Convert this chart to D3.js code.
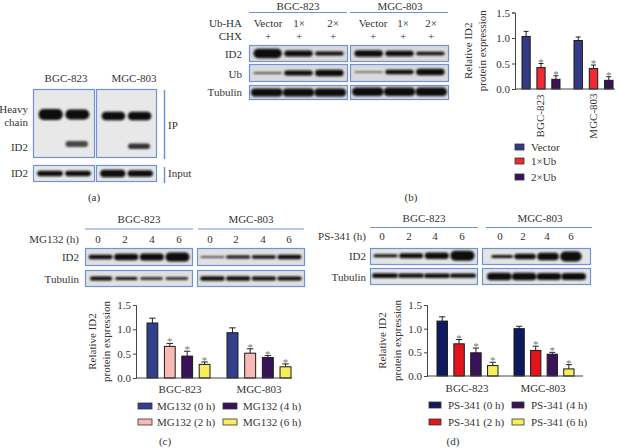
<!DOCTYPE html>
<html><head><meta charset="utf-8">
<script src="https://cdn.jsdelivr.net/npm/d3@7"></script>
<style>html,body{margin:0;background:#fff}svg{display:block}text{font-family:"Liberation Serif",serif;fill:#333;font-size:11px}</style>
</head><body><svg id="c" width="620" height="448"></svg>
<script>
// ---------- data ----------
const cellLines = ["BGC-823", "MGC-803"];
const yTicks = [0, 0.5, 1.0, 1.5];
const yLabelLines = ["Relative ID2", "protein expression"];
const ubSeries = ["Vector", "1×Ub", "2×Ub"];
const ubColors = ["#343a86", "#ee2a33", "#3a1259"];
const ubValues = [[1.03, 0.42, 0.19], [0.95, 0.40, 0.17]];
const ubErrTop = [[1.13, 0.50, 0.26], [1.02, 0.47, 0.24]];
const mgSeries = ["MG132 (0 h)", "MG132 (2 h)", "MG132 (4 h)", "MG132 (6 h)"];
const mgColors = ["#343f8c", "#fbb9b5", "#3a1259", "#f7ee5a"];
const mgValues = [[1.13, 0.65, 0.45, 0.28], [0.93, 0.51, 0.42, 0.23]];
const mgErrTop = [[1.23, 0.71, 0.55, 0.33], [1.03, 0.60, 0.46, 0.29]];
const psSeries = ["PS-341 (0 h)", "PS-341 (2 h)", "PS-341 (4 h)", "PS-341 (6 h)"];
const psColors = ["#0e1a5e", "#e3141c", "#3a1259", "#f7ee5a"];
const psValues = [[1.16, 0.68, 0.49, 0.22], [1.00, 0.54, 0.46, 0.15]];
const psErrTop = [[1.25, 0.77, 0.59, 0.29], [1.05, 0.63, 0.50, 0.24]];
const ubLanes = ["Vector", "1×", "2×"];
const hourLanes = ["0", "2", "4", "6"];
// western-blot band strength per lane (0..1 thickness-like reading), one per lane
const blotA = {heavy: [[1, .9], [.85, .85]], id2: [[0, .55], [0, .5]], input: [[.55, .55], [.75, .65]]};
const blotB = {id2: [[.95, .6, .4], [.65, .55, .35]], ub: [[.22, .5, .65], [.15, .45, .65]], tub: [[.8, .8, .8], [.85, .85, .85]]};
const blotC = {id2: [[.45, .65, .7, .9], [.18, .3, .35, .45]], tub: [[.5, .4, .3, .3], [.55, .55, .5, .5]]};
const blotD = {id2: [[.3, .5, .65, 1], [.3, .55, .75, 1]], tub: [[.7, .6, .65, .6], [.85, .85, .8, .8]]};

// ---------- helpers ----------
const svg = d3.select("#c");
svg.append("defs").append("filter").attr("id", "bl").attr("x", "-20%").attr("y", "-80%").attr("width", "140%").attr("height", "260%")
  .append("feGaussianBlur").attr("stdDeviation", 0.9);
function txt(x, y, s, o = {}) {
  const t = svg.append("text").attr("x", x).attr("y", y).text(s).attr("text-anchor", o.a || "start");
  if (o.rot) t.attr("transform", `rotate(${o.rot} ${x} ${y})`);
  return t;
}
const BLUE = "#6f93d6";
function blot(x0, x1, y0, y1, strengths, o = {}) {
  if (!o.noBox) svg.append("rect").attr("x", x0 + .5).attr("y", y0 + .5).attr("width", x1 - x0 - 1).attr("height", y1 - y0 - 1)
    .attr("fill", o.bg || "#e0e0e0").attr("stroke", BLUE).attr("stroke-width", 1.2);
  const cy = d3.scaleLinear().domain([0, 1]).range([y0, y1]);
  const lanes = d3.scaleBand().domain(d3.range(strengths.length)).range([x0 + (o.pad ?? 2), x1 - (o.pad ?? 2)]).padding(o.gap ?? .08);
  const th = d3.scaleLinear().domain([0, 1]).range([0, o.maxT || 12]);
  strengths.forEach((s, i) => {
    if (!s) return;
    const h = th(s);
    svg.append("rect").attr("x", lanes(i)).attr("y", cy(o.mid ?? .5) - h / 2).attr("width", lanes.bandwidth()).attr("height", h)
      .attr("rx", Math.min(h / 2, 5)).attr("fill", o.color || (s < .25 ? "#555" : "#0a0a0a")).attr("filter", "url(#bl)");
  });
}
function labelsAt(xs, y, labels) { labels.forEach((l, i) => txt(xs[i], y, l, {a: "middle"})); }
function hline(x0, x1, y, col = BLUE, w = 1.2) {
  svg.append("line").attr("x1", x0).attr("x2", x1).attr("y1", y).attr("y2", y).attr("stroke", col).attr("stroke-width", w);
}
function vline(x, y0, y1, w = 1.5) {
  svg.append("line").attr("x1", x).attr("x2", x).attr("y1", y0).attr("y2", y1).attr("stroke", BLUE).attr("stroke-width", w);
}
function barChart(cfg) {
  const {x0, x1, yTop, yBase, groupRanges, values, errs, colors, series} = cfg;
  const y = d3.scaleLinear().domain([0, 1.5]).range([yBase, yTop]);
  const g = svg.append("g");
  values.forEach((vals, gi) => {
    const x = d3.scaleBand().domain(series).range(groupRanges[gi]).paddingInner(cfg.inner ?? .38).paddingOuter(0);
    series.forEach((s, i) => {
      const bx = x(s), bw = x.bandwidth(), cx = bx + bw / 2;
      g.append("line").attr("x1", cx).attr("x2", cx).attr("y1", y(vals[i])).attr("y2", y(errs[gi][i])).attr("stroke", "#222").attr("stroke-width", 1);
      g.append("line").attr("x1", cx - bw * .3).attr("x2", cx + bw * .3).attr("y1", y(errs[gi][i])).attr("y2", y(errs[gi][i])).attr("stroke", "#222").attr("stroke-width", 1);
      g.append("rect").attr("x", bx).attr("y", y(vals[i])).attr("width", bw).attr("height", y(0) - y(vals[i]))
        .attr("fill", colors[i]).attr("stroke", "#1a1a1a").attr("stroke-width", 1);
      if (i > 0) g.append("text").attr("x", cx).attr("y", y(errs[gi][i]) + 2).attr("text-anchor", "middle").text("*").style("font-size", "11px").style("fill", "#777");
    });
  });
  const axL = d3.axisLeft(y).tickValues(yTicks).tickFormat(d3.format(".1f")).tickSize(3).tickPadding(2);
  const ga = svg.append("g").attr("transform", `translate(${x0},0)`).call(axL);
  ga.selectAll("text").style("font-size", "11px").style("font-family", '"Liberation Serif",serif');
  ga.selectAll("path,line").attr("stroke", "#444");
  hline(x0, x1, yBase, "#444", 1);
  cfg.yLabelX.forEach((lx, i) => txt(lx, (yBase + yTop) / 2, yLabelLines[i], {a: "middle", rot: -90}));
}
function legend(xSw, xTxt, ys, w, names, colors) {
  names.forEach((n, i) => {
    svg.append("rect").attr("x", xSw).attr("y", ys[i] - 3).attr("width", w).attr("height", 6).attr("fill", colors[i]).attr("stroke", "#333").attr("stroke-width", .8);
    txt(xTxt, ys[i] + 3.5, n);
  });
}

// ---------- panel (a) ----------
const bgA = "#e8e8e8";
labelsAt([66, 134], 82, cellLines);
blot(33, 95, 89, 158, blotA.heavy[0], {mid: .37, maxT: 11, pad: 3, gap: .1, bg: bgA});
blot(96, 157, 89, 158, blotA.heavy[1], {mid: .39, maxT: 10, pad: 3, gap: .1, bg: bgA});
blot(33, 95, 130, 158, blotA.id2[0], {mid: .5, maxT: 11, pad: 4, gap: .12, noBox: true, color: "#444"});
blot(96, 157, 130, 158, blotA.id2[1], {mid: .58, maxT: 11, pad: 4, gap: .12, noBox: true, color: "#333"});
blot(33, 95, 165, 182, blotA.input[0], {maxT: 10, bg: bgA});
blot(96, 157, 165, 182, blotA.input[1], {maxT: 10, bg: bgA});
vline(164.5, 90, 159); vline(164.5, 167, 183);
txt(28, 113, "Heavy", {a: "end"}); txt(28, 126, "chain", {a: "end"});
txt(28, 151, "ID2", {a: "end"}); txt(28, 177, "ID2", {a: "end"});
txt(168, 129, "IP"); txt(168, 177, "Input");
txt(94, 201, "(a)", {a: "middle"});

// ---------- panel (b) ----------
const bgB = "#dadada";
labelsAt([298, 400], 10, cellLines);
hline(249, 347, 12.5); hline(350, 448, 12.5);
txt(242, 27, "Ub-HA", {a: "end"}); txt(242, 40, "CHX", {a: "end"});
labelsAt([268, 299, 333, 373, 403, 431], 27, ubLanes.concat(ubLanes));
labelsAt([268, 299, 333, 373, 403, 431], 40, ["+", "+", "+", "+", "+", "+"]);
txt(242, 58, "ID2", {a: "end"}); txt(242, 78, "Ub", {a: "end"}); txt(242, 96, "Tubulin", {a: "end"});
blot(249, 348, 45, 62, blotB.id2[0], {maxT: 10, bg: bgB});
blot(350, 449, 45, 62, blotB.id2[1], {maxT: 10, bg: bgB});
blot(249, 348, 64, 82, blotB.ub[0], {maxT: 10, bg: bgB});
blot(350, 449, 64, 82, blotB.ub[1], {maxT: 10, bg: bgB, mid: .45});
blot(249, 348, 85, 100, blotB.tub[0], {maxT: 10, gap: 0, bg: bgB});
blot(350, 449, 85, 100, blotB.tub[1], {maxT: 10, gap: 0, mid: .45, bg: bgB});
barChart({x0: 515, x1: 615, yTop: 12.5, yBase: 89, groupRanges: [[522, 560], [574, 613]], values: ubValues, errs: ubErrTop, colors: ubColors, series: ubSeries, yLabelX: [472, 486], inner: .45});
txt(544, 116, cellLines[0], {a: "middle", rot: -90});
txt(597, 116, cellLines[1], {a: "middle", rot: -90});
legend(515, 531, [147, 161, 177], 9, ubSeries, ubColors);
txt(411, 201, "(b)", {a: "middle"});

// ---------- panel (c) ----------
labelsAt([139, 251], 223, cellLines);
hline(85, 193, 229); hline(198, 304, 229);
txt(79, 243, "MG132 (h)", {a: "end"});
labelsAt([98, 125, 152, 179, 210, 236, 263, 289], 243, hourLanes.concat(hourLanes));
txt(79, 261, "ID2", {a: "end"}); txt(79, 283, "Tubulin", {a: "end"});
blot(85, 193, 248, 266, blotC.id2[0], {maxT: 10, gap: .06});
blot(197, 305, 248, 266, blotC.id2[1], {maxT: 10, gap: .06});
blot(85, 193, 270, 287, blotC.tub[0], {maxT: 8, gap: .12});
blot(197, 305, 270, 287, blotC.tub[1], {maxT: 8, gap: .05});
barChart({x0: 136, x1: 292, yTop: 305, yBase: 378, groupRanges: [[147, 210], [227, 291]], values: mgValues, errs: mgErrTop, colors: mgColors, series: mgSeries, yLabelX: [96, 110]});
labelsAt([180, 259], 393, cellLines);
legend(138, 157, [406, 422], 14, mgSeries.slice(0, 2), mgColors.slice(0, 2));
legend(223, 243, [406, 422], 14, mgSeries.slice(2), mgColors.slice(2));
txt(165, 445, "(c)", {a: "middle"});

// ---------- panel (d) ----------
const bgD = "#e4e4e4";
labelsAt([424, 540], 222, cellLines);
hline(370, 478, 227.5); hline(486, 592, 227.5);
txt(366, 240, "PS-341 (h)", {a: "end"});
labelsAt([382, 409, 435, 462, 500, 523, 547, 571], 240, hourLanes.concat(hourLanes));
txt(366, 260, "ID2", {a: "end"}); txt(366, 281, "Tubulin", {a: "end"});
blot(370, 478, 248, 265, blotD.id2[0], {maxT: 10, gap: .06, mid: .45, bg: bgD});
blot(482, 591, 248, 265, blotD.id2[1], {maxT: 10, gap: .06, pad: 8, bg: bgD});
blot(370, 478, 268, 285, blotD.tub[0], {maxT: 7, gap: 0, mid: .45, bg: bgD});
blot(482, 591, 268, 285, blotD.tub[1], {maxT: 9, gap: 0, pad: 5, bg: bgD});
barChart({x0: 427, x1: 583, yTop: 305, yBase: 376, groupRanges: [[437, 498], [514, 574]], values: psValues, errs: psErrTop, colors: psColors, series: psSeries, yLabelX: [386, 401]});
labelsAt([467, 543], 392, cellLines);
legend(429, 448, [405, 422], 12, psSeries.slice(0, 2), psColors.slice(0, 2));
legend(512, 531, [405, 422], 12, psSeries.slice(2), psColors.slice(2));
txt(453, 445, "(d)", {a: "middle"});
</script></body></html>
